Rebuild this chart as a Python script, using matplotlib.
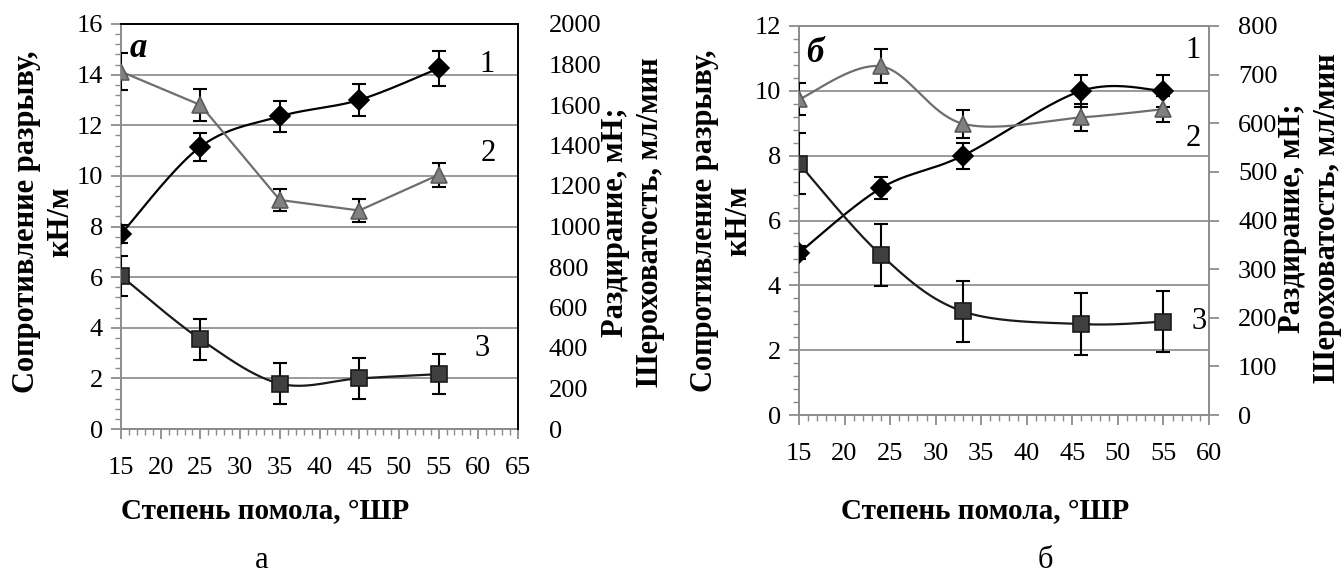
import numpy as np
import matplotlib
matplotlib.use("Agg")
import matplotlib.pyplot as plt
from matplotlib.ticker import MultipleLocator

plt.rcParams['font.family'] = 'serif'
plt.rcParams['font.serif'] = ['Liberation Serif', 'Times New Roman', 'DejaVu Serif']

# --- panel a ---
x_a = [15, 25, 35, 45, 55]
tensile_a = [7.7, 11.15, 12.35, 13.0, 14.25]
tensile_err_a = [0.36, 0.55, 0.62, 0.63, 0.69]
tear_a = [1765, 1600, 1131, 1079, 1255]
tear_err_a = [90, 78, 55, 55, 61]
rough_a = [756, 443, 224, 250, 271]
rough_err_a = [100, 100, 100, 100, 100]

# --- panel b ---
x_b = [15, 24, 33, 46, 55]
tensile_b = [5.0, 7.0, 8.0, 10.0, 10.0]
tensile_err_b = [0.2, 0.35, 0.4, 0.5, 0.5]
tear_b = [649, 717, 599, 612, 629]
tear_err_b = [33, 35, 29, 28, 27]
rough_b = [517, 329, 213, 187, 192]
rough_err_b = [63, 63, 63, 63, 63]

W, H = 1342, 576
GRAY = '#8c8c8c'
GRID = '#9a9a9a'
YLAB = 'Сопротивление разрыву,\nкН/м'
Y2LAB = 'Раздирание, мН;\nШероховатость, мл/мин'
XLAB = 'Степень помола, °ШР'

fig = plt.figure(figsize=(W / 100, H / 100), dpi=100)


def smooth(ax, xs, ys, n=40):
    # Excel-like bezier smoothing, done in pixel space of the axes
    x0, x1 = ax.get_xlim()
    y0, y1 = ax.get_ylim()
    bb = ax.get_position()
    w, h = bb.width * W, bb.height * H
    px = (np.asarray(xs, float) - x0) / (x1 - x0) * w
    py = (np.asarray(ys, float) - y0) / (y1 - y0) * h
    pts = np.column_stack([px, py])
    ext = np.vstack([pts[0], pts, pts[-1]])
    t = np.linspace(0, 1, n)[:, None]
    out = []
    for i in range(len(pts) - 1):
        p0, p1, p2, p3 = ext[i], ext[i + 1], ext[i + 2], ext[i + 3]
        c1 = p1 + (p2 - p0) / 6
        c2 = p2 - (p3 - p1) / 6
        seg = (1 - t) ** 3 * p1 + 3 * (1 - t) ** 2 * t * c1 + 3 * (1 - t) * t ** 2 * c2 + t ** 3 * p2
        out.append(seg if i == 0 else seg[1:])
    out = np.vstack(out)
    return out[:, 0] / w * (x1 - x0) + x0, out[:, 1] / h * (y1 - y0) + y0


def series(ax, x, y, err, marker, ms, fc, ec, lc, smoothed):
    if smoothed:
        sx, sy = smooth(ax, x, y)
    else:
        sx, sy = x, y
    ax.plot(sx, sy, color=lc, lw=1.6, zorder=3)
    ax.errorbar(x, y, yerr=err, fmt='none', ecolor='black', elinewidth=1.5,
                capsize=5, capthick=1.5, zorder=4)
    ax.plot(x, y, ls='none', marker=marker, ms=ms, mfc=fc, mec=ec, mew=1.2, zorder=5)


def setup(rect, xmax, ymax, y2max, y2step, frame_color):
    ax = fig.add_axes(rect)
    ax.set_xlim(15, xmax)
    ax.set_ylim(0, ymax)
    ax.xaxis.set_major_locator(MultipleLocator(5))
    ax.xaxis.set_minor_locator(MultipleLocator(1))
    ax.yaxis.set_major_locator(MultipleLocator(2))
    ax.yaxis.set_minor_locator(MultipleLocator(0.4))
    ax.tick_params(which='major', direction='out', length=7, width=1.3, color=GRAY,
                   labelsize=19, pad=6)
    ax.tick_params(which='minor', direction='out', length=4, width=1.0, color=GRAY)
    ax.tick_params(axis='x', which='major', pad=13)
    ax.yaxis.grid(True, color=GRID, lw=1.4)
    ax.set_axisbelow(True)
    for s in ['left', 'bottom']:
        ax.spines[s].set_color(GRAY)
        ax.spines[s].set_linewidth(1.4)
    ax.spines['top'].set_color(frame_color)
    ax.spines['top'].set_linewidth(1.4)
    ax.spines['right'].set_visible(False)

    ax2 = ax.twinx()
    ax2.set_ylim(0, y2max)
    ax2.yaxis.set_major_locator(MultipleLocator(y2step))
    for s in ['left', 'top', 'bottom']:
        ax2.spines[s].set_visible(False)
    ax2.spines['right'].set_color(frame_color)
    ax2.spines['right'].set_linewidth(1.4)
    return ax, ax2


def vlabel(x, y, text):
    fig.text(x / W, 1 - y / H, text, rotation=90, fontsize=22, fontweight='bold',
             ha='center', va='center', multialignment='center', linespacing=1.25)


# ---------- panel a ----------
ax, ax2 = setup([121 / W, 1 - 429 / H, 397 / W, 405 / H], 65, 16, 2000, 200, 'black')
ax2.tick_params(axis='y', length=0, labelsize=19, pad=22)
series(ax, x_a, tensile_a, tensile_err_a, 'D', 10, 'black', 'black', 'black', True)
series(ax2, x_a, tear_a, tear_err_a, '^', 11, '#808080', '#5a5a5a', '#6e6e6e', False)
series(ax2, x_a, rough_a, rough_err_a, 's', 11, '#3f3f3f', '#1a1a1a', '#1a1a1a', True)
ax.text(0.022, 0.94, 'a', transform=ax.transAxes, fontsize=25, fontweight='bold',
        fontstyle='italic', ha='left', va='center')
for lab, fx, fy in [('1', 0.922, 0.899), ('2', 0.924, 0.681), ('3', 0.909, 0.2)]:
    ax.text(fx, fy, lab, transform=ax.transAxes, fontsize=22, ha='center', va='center')

vlabel(44, 222, YLAB)
vlabel(633, 222, Y2LAB)
fig.text(265 / W, 1 - 512 / H, XLAB, fontsize=21, fontweight='bold', ha='center', va='center')
fig.text(262 / W, 1 - 560 / H, 'а', fontsize=22, ha='center', va='center')

# ---------- panel b ----------
bx, bx2 = setup([799 / W, 1 - 415 / H, 410 / W, 389 / H], 60, 12, 800, 100, GRAY)
bx2.tick_params(axis='y', direction='out', length=7, width=1.3, color=GRAY, labelsize=19, pad=14)
series(bx, x_b, tensile_b, tensile_err_b, 'D', 10, 'black', 'black', 'black', True)
series(bx2, x_b, tear_b, tear_err_b, '^', 11, '#808080', '#5a5a5a', '#6e6e6e', True)
series(bx2, x_b, rough_b, rough_err_b, 's', 11, '#3f3f3f', '#1a1a1a', '#1a1a1a', True)
bx.text(0.039, 0.93, 'б', transform=bx.transAxes, fontsize=25, fontweight='bold',
        fontstyle='italic', ha='center', va='center')
for lab, fx, fy in [('1', 0.961, 0.938), ('2', 0.961, 0.712), ('3', 0.975, 0.24)]:
    bx.text(fx, fy, lab, transform=bx.transAxes, fontsize=22, ha='center', va='center')

vlabel(722, 221, YLAB)
vlabel(1310, 218, Y2LAB)
fig.text(985 / W, 1 - 512 / H, XLAB, fontsize=21, fontweight='bold', ha='center', va='center')
fig.text(1045 / W, 1 - 560 / H, 'б', fontsize=22, ha='center', va='center')

fig.savefig('out.png', dpi=100)
